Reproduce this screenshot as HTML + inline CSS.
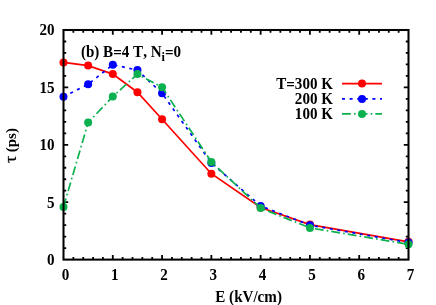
<!DOCTYPE html>
<html><head><meta charset="utf-8"><title>chart</title>
<style>html,body{margin:0;padding:0;background:#fff;overflow:hidden}body{width:436px;height:305px;position:relative;font-family:"Liberation Serif",serif}</style></head>
<body>
<svg width="436" height="305" viewBox="0 0 436 305" style="position:absolute;left:0;top:0">
<rect width="436" height="305" fill="#fff"/>
<path d="M73.36,259.6v-2.7M73.36,30.0v2.7M83.21,259.6v-2.7M83.21,30.0v2.7M93.07,259.6v-2.7M93.07,30.0v2.7M102.93,259.6v-2.7M102.93,30.0v2.7M112.79,259.6v-4.7M112.79,30.0v4.7M122.64,259.6v-2.7M122.64,30.0v2.7M132.50,259.6v-2.7M132.50,30.0v2.7M142.36,259.6v-2.7M142.36,30.0v2.7M152.21,259.6v-2.7M152.21,30.0v2.7M162.07,259.6v-4.7M162.07,30.0v4.7M171.93,259.6v-2.7M171.93,30.0v2.7M181.79,259.6v-2.7M181.79,30.0v2.7M191.64,259.6v-2.7M191.64,30.0v2.7M201.50,259.6v-2.7M201.50,30.0v2.7M211.36,259.6v-4.7M211.36,30.0v4.7M221.21,259.6v-2.7M221.21,30.0v2.7M231.07,259.6v-2.7M231.07,30.0v2.7M240.93,259.6v-2.7M240.93,30.0v2.7M250.79,259.6v-2.7M250.79,30.0v2.7M260.64,259.6v-4.7M260.64,30.0v4.7M270.50,259.6v-2.7M270.50,30.0v2.7M280.36,259.6v-2.7M280.36,30.0v2.7M290.21,259.6v-2.7M290.21,30.0v2.7M300.07,259.6v-2.7M300.07,30.0v2.7M309.93,259.6v-4.7M309.93,30.0v4.7M319.79,259.6v-2.7M319.79,30.0v2.7M329.64,259.6v-2.7M329.64,30.0v2.7M339.50,259.6v-2.7M339.50,30.0v2.7M349.36,259.6v-2.7M349.36,30.0v2.7M359.21,259.6v-4.7M359.21,30.0v4.7M369.07,259.6v-2.7M369.07,30.0v2.7M378.93,259.6v-2.7M378.93,30.0v2.7M388.79,259.6v-2.7M388.79,30.0v2.7M398.64,259.6v-2.7M398.64,30.0v2.7M63.5,248.12h2.7M408.5,248.12h-2.7M63.5,236.64h2.7M408.5,236.64h-2.7M63.5,225.16h2.7M408.5,225.16h-2.7M63.5,213.68h2.7M408.5,213.68h-2.7M63.5,202.20h4.7M408.5,202.20h-4.7M63.5,190.72h2.7M408.5,190.72h-2.7M63.5,179.24h2.7M408.5,179.24h-2.7M63.5,167.76h2.7M408.5,167.76h-2.7M63.5,156.28h2.7M408.5,156.28h-2.7M63.5,144.80h4.7M408.5,144.80h-4.7M63.5,133.32h2.7M408.5,133.32h-2.7M63.5,121.84h2.7M408.5,121.84h-2.7M63.5,110.36h2.7M408.5,110.36h-2.7M63.5,98.88h2.7M408.5,98.88h-2.7M63.5,87.40h4.7M408.5,87.40h-4.7M63.5,75.92h2.7M408.5,75.92h-2.7M63.5,64.44h2.7M408.5,64.44h-2.7M63.5,52.96h2.7M408.5,52.96h-2.7M63.5,41.48h2.7M408.5,41.48h-2.7" stroke="#000" stroke-width="1.8" fill="none"/>
<polyline points="63.50,62.40 88.14,65.60 112.79,74.10 137.43,92.20 162.07,119.20 211.36,173.70 260.64,207.50 309.93,224.60 408.50,241.80" fill="none" stroke="#ff0000" stroke-width="1.7"/>
<circle cx="63.50" cy="62.40" r="4.0" fill="#ff0000"/><circle cx="88.14" cy="65.60" r="4.0" fill="#ff0000"/><circle cx="112.79" cy="74.10" r="4.0" fill="#ff0000"/><circle cx="137.43" cy="92.20" r="4.0" fill="#ff0000"/><circle cx="162.07" cy="119.20" r="4.0" fill="#ff0000"/><circle cx="211.36" cy="173.70" r="4.0" fill="#ff0000"/><circle cx="260.64" cy="207.50" r="4.0" fill="#ff0000"/><circle cx="309.93" cy="224.60" r="4.0" fill="#ff0000"/><circle cx="408.50" cy="241.80" r="4.0" fill="#ff0000"/>
<polyline points="63.50,96.70 88.14,84.30 112.79,64.70 137.43,70.10 162.07,93.30 211.36,163.00 260.64,205.90 309.93,225.20 408.50,242.60" fill="none" stroke="#0000ff" stroke-width="1.7" stroke-dasharray="3.0,4.6"/>
<circle cx="63.50" cy="96.70" r="4.0" fill="#0000ff"/><circle cx="88.14" cy="84.30" r="4.0" fill="#0000ff"/><circle cx="112.79" cy="64.70" r="4.0" fill="#0000ff"/><circle cx="137.43" cy="70.10" r="4.0" fill="#0000ff"/><circle cx="162.07" cy="93.30" r="4.0" fill="#0000ff"/><circle cx="211.36" cy="163.00" r="4.0" fill="#0000ff"/><circle cx="260.64" cy="205.90" r="4.0" fill="#0000ff"/><circle cx="309.93" cy="225.20" r="4.0" fill="#0000ff"/><circle cx="408.50" cy="242.60" r="4.0" fill="#0000ff"/>
<polyline points="63.50,206.90 88.14,122.50 112.79,96.60 137.43,74.10 162.07,87.30 211.36,161.90 260.64,208.10 309.93,227.90 408.50,244.30" fill="none" stroke="#0cb14f" stroke-width="1.7" stroke-dasharray="8.8,3.2,1.6,3.07"/>
<circle cx="63.50" cy="206.90" r="4.0" fill="#0cb14f"/><circle cx="88.14" cy="122.50" r="4.0" fill="#0cb14f"/><circle cx="112.79" cy="96.60" r="4.0" fill="#0cb14f"/><circle cx="137.43" cy="74.10" r="4.0" fill="#0cb14f"/><circle cx="162.07" cy="87.30" r="4.0" fill="#0cb14f"/><circle cx="211.36" cy="161.90" r="4.0" fill="#0cb14f"/><circle cx="260.64" cy="208.10" r="4.0" fill="#0cb14f"/><circle cx="309.93" cy="227.90" r="4.0" fill="#0cb14f"/><circle cx="408.50" cy="244.30" r="4.0" fill="#0cb14f"/>
<line x1="342" y1="83.6" x2="382" y2="83.6" stroke="#ff0000" stroke-width="1.7"/>
<circle cx="362.0" cy="83.6" r="4.0" fill="#ff0000"/>
<line x1="342" y1="98.9" x2="382" y2="98.9" stroke="#0000ff" stroke-width="1.7" stroke-dasharray="3.0,4.6"/>
<circle cx="362.0" cy="98.9" r="4.0" fill="#0000ff"/>
<line x1="342" y1="113.9" x2="382" y2="113.9" stroke="#0cb14f" stroke-width="1.7" stroke-dasharray="8.8,3.2,1.6,3.07"/>
<circle cx="362.0" cy="113.9" r="4.0" fill="#0cb14f"/>
<rect x="63.5" y="30.0" width="345.0" height="229.60000000000002" fill="none" stroke="#000" stroke-width="2.05"/>
<g font-family="Liberation Serif, serif" font-weight="bold" font-size="15.1px" fill="#000" style="will-change:transform;font-kerning:none;font-variant-ligatures:none">
<text transform="translate(54.50,264.80) scale(1,1.04)" text-anchor="end">0</text>
<text transform="translate(54.50,208.00) scale(1,1.04)" text-anchor="end">5</text>
<text transform="translate(54.50,150.40) scale(1,1.04)" text-anchor="end">10</text>
<text transform="translate(54.50,92.50) scale(1,1.04)" text-anchor="end">15</text>
<text transform="translate(54.50,35.20) scale(1,1.04)" text-anchor="end">20</text>
<text transform="translate(65.50,280.10) scale(1,1.04)" text-anchor="middle">0</text>
<text transform="translate(114.79,280.10) scale(1,1.04)" text-anchor="middle">1</text>
<text transform="translate(164.07,280.10) scale(1,1.04)" text-anchor="middle">2</text>
<text transform="translate(213.36,280.10) scale(1,1.04)" text-anchor="middle">3</text>
<text transform="translate(262.64,280.10) scale(1,1.04)" text-anchor="middle">4</text>
<text transform="translate(311.93,280.10) scale(1,1.04)" text-anchor="middle">5</text>
<text transform="translate(361.21,280.10) scale(1,1.04)" text-anchor="middle">6</text>
<text transform="translate(410.50,280.10) scale(1,1.04)" text-anchor="middle">7</text>
<text transform="translate(80.90,56.70) scale(1,1.04)" text-anchor="start">(b) B<tspan dy="1">=</tspan><tspan dy="-1">4 T, N</tspan><tspan font-size="12.2px" dy="3.95">i</tspan><tspan dy="-2.95">=</tspan><tspan dy="-1">0</tspan></text>
<text transform="translate(333.00,88.50) scale(1,1.04)" text-anchor="end">T<tspan dy="1">=</tspan><tspan dy="-1">300 K</tspan></text>
<text transform="translate(333.00,103.50) scale(1,1.04)" text-anchor="end">200 K</text>
<text transform="translate(333.00,118.50) scale(1,1.04)" text-anchor="end">100 K</text>
<text transform="translate(248.60,301.50) scale(1,1.04)" text-anchor="middle">E (kV/cm)</text>
<text transform="translate(15.8,152.3) rotate(-90)">(ps)</text>
<text transform="translate(15.9,162.9) rotate(-90) scale(1.05,1)" font-weight="normal" font-size="17.4px" stroke="#000" stroke-width="0.25">τ</text>
</g></svg>
</body></html>
